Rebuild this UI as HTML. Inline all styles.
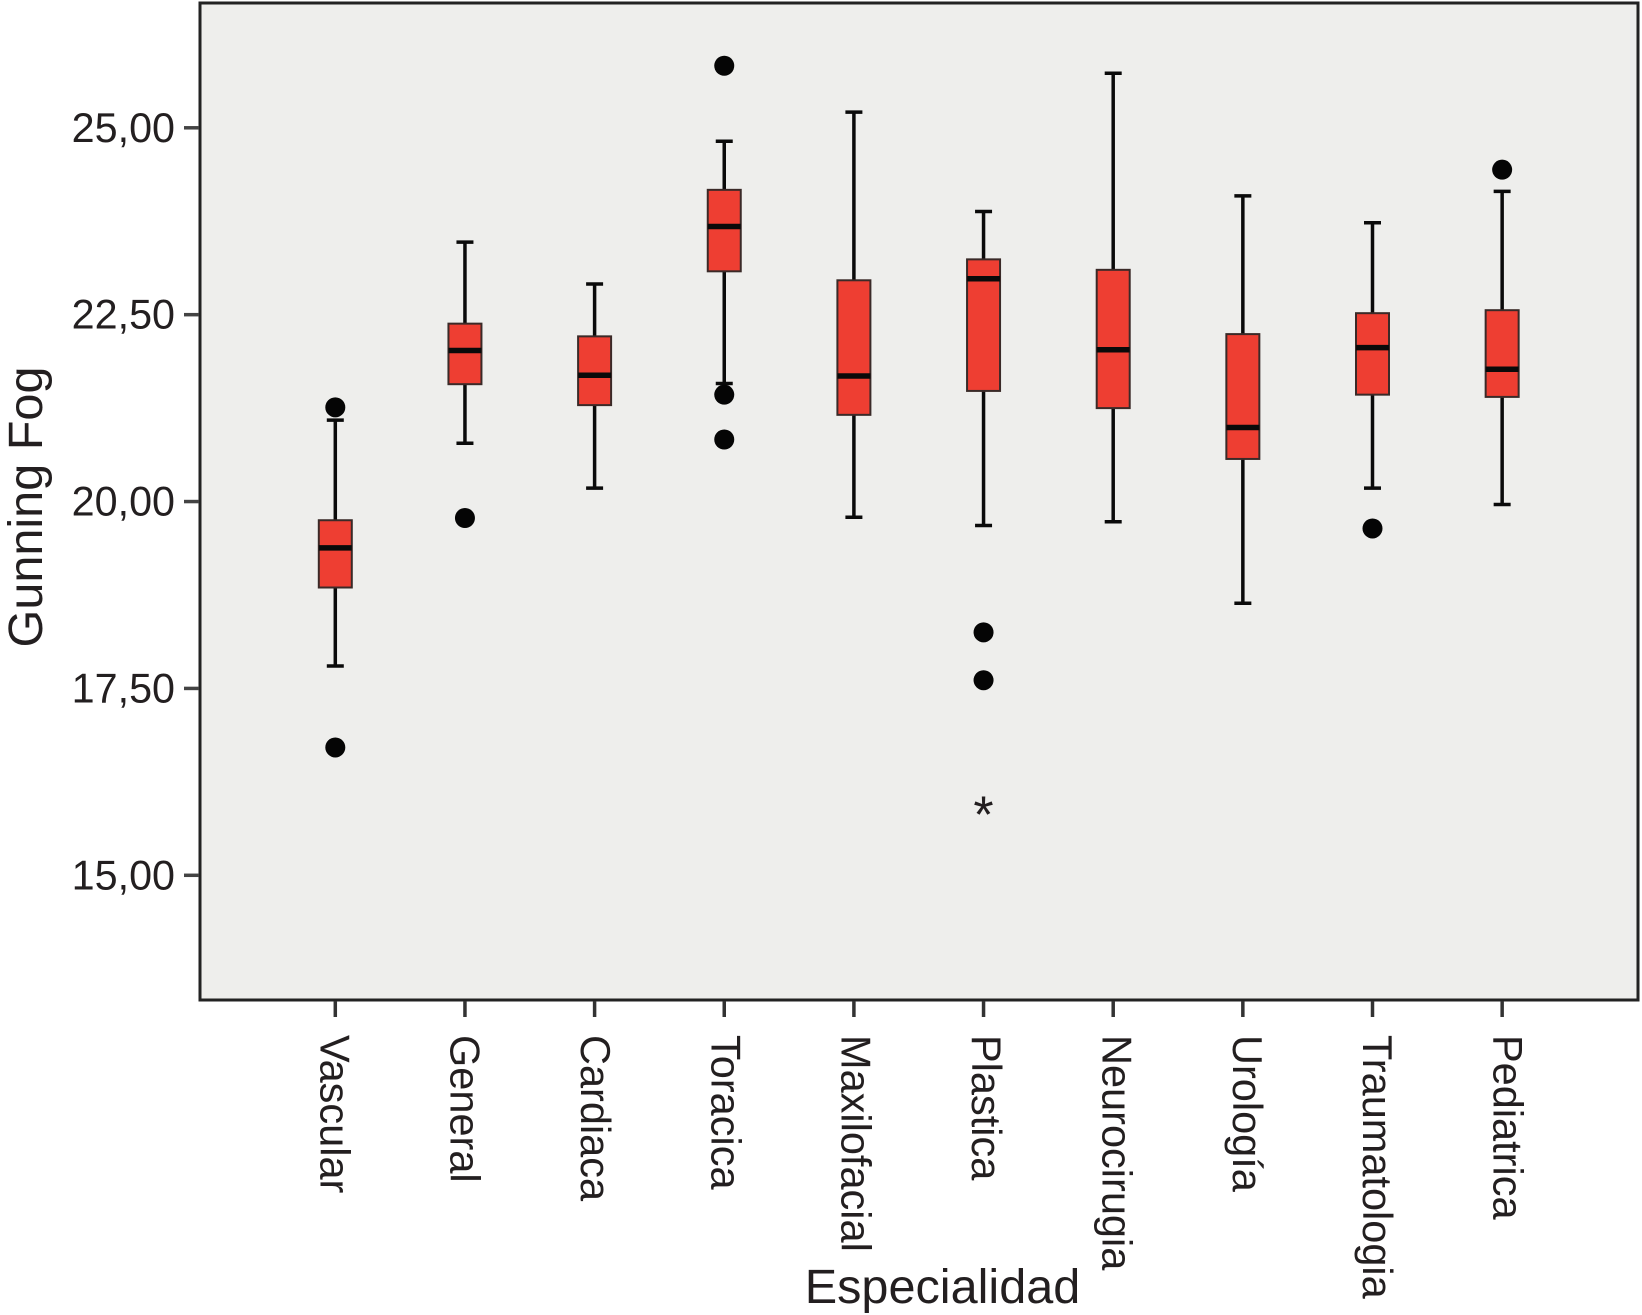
<!DOCTYPE html>
<html lang="es">
<head>
<meta charset="utf-8">
<title>Gunning Fog por Especialidad</title>
<style>
html,body{margin:0;padding:0;background:#fff;}
svg{display:block;font-family:"Liberation Sans",sans-serif;}
text{fill:#231f20;}
</style>
</head>
<body>
<svg id="chart" width="1642" height="1315" viewBox="0 0 1642 1315" xmlns="http://www.w3.org/2000/svg">
  <rect x="200" y="3" width="1438" height="997" fill="#eeeeec" stroke="#222" stroke-width="3"/>
  <g id="y-axis"></g>
  <g id="x-axis"></g>
  <g id="boxes"></g>
  <text transform="translate(42,507) rotate(-90)" text-anchor="middle" font-size="48.6">Gunning Fog</text>
  <text x="942.5" y="1303" text-anchor="middle" font-size="48.6">Especialidad</text>
</svg>
<script>
const categories = ["Vascular","General","Cardiaca","Toracica","Maxilofacial","Plastica","Neurocirugia","Urología","Traumatologia","Pediatrica"];
const whiskerHigh = [21.09,23.47,22.91,24.82,25.21,23.88,25.73,24.09,23.73,24.15];
const q3Values = [19.75,22.38,22.21,24.17,22.96,23.24,23.10,22.24,22.52,22.56];
const medians = [19.38,22.02,21.69,23.68,21.68,22.98,22.03,20.99,22.06,21.77];
const q1Values = [18.85,21.57,21.29,23.08,21.16,21.48,21.25,20.57,21.43,21.40];
const whiskerLow = [17.80,20.78,20.18,21.58,19.79,19.68,19.73,18.64,20.18,19.96];
const outliers = [[21.26,16.71],[19.78],[],[25.83,21.43,20.83],[],[18.25,17.61],[],[],[19.64],[24.44]];
const extremes = [[],[],[],[],[],[15.91],[],[],[],[]];
const yTicks = [15,17.5,20,22.5,25];
const yTickLabels = ["15,00","17,50","20,00","22,50","25,00"];

const NS = "http://www.w3.org/2000/svg";
function yScale(v){ return 127.8 + (25 - v) * 74.75; }
function xScale(i){ return 335.3 + i * 129.65; }
function labelX(i){ return 320.3 + i * 130.35; }
function make(tag, parent, props){
  const el = document.createElementNS(NS, tag);
  for (const k in props) el.setAttribute(k, props[k]);
  parent.appendChild(el);
  return el;
}

const yAxis = document.getElementById("y-axis");
yTicks.forEach(function(t, i){
  const y = yScale(t);
  const tick = make("line", yAxis, {x1:184, x2:199, y1:y, y2:y, stroke:"#444", "stroke-width":3.5});
  
  
  const label = make("text", yAxis, {x:175, y:y+14, "text-anchor":"end", "font-size":41.3});
  
  
  label.textContent = yTickLabels[i];
});

const xAxis = document.getElementById("x-axis");
categories.forEach(function(c, i){
  const x = xScale(i);
  const tick = make("line", xAxis, {x1:x, x2:x, y1:1001, y2:1017, stroke:"#333", "stroke-width":3.5});
  
  
  const label = make("text", xAxis, {transform:"translate("+labelX(i)+",1035) rotate(90)", "font-size":41.5});
  
  
  label.textContent = c;
});

const boxes = document.getElementById("boxes");
categories.forEach(function(c, i){
  const x = xScale(i);
  const g = make("g", boxes, {});
  
  
  const whisker = make("line", g, {x1:x, x2:x, y1:yScale(whiskerHigh[i]), y2:yScale(whiskerLow[i]), stroke:"#0a0a0a", "stroke-width":3.5});
  
  
  [whiskerHigh[i], whiskerLow[i]].forEach(function(v){
    const cap = make("line", g, {x1:x-8.5, x2:x+8.5, y1:yScale(v), y2:yScale(v), stroke:"#0a0a0a", "stroke-width":3.5});
    
    
  });
  const box = make("rect", g, {x:x-16.5, y:yScale(q3Values[i]), width:33, height:yScale(q1Values[i])-yScale(q3Values[i]), fill:"#ee3e32", stroke:"#3a2a28", "stroke-width":2});
  
  
  const med = make("line", g, {x1:x-16.5, x2:x+16.5, y1:yScale(medians[i]), y2:yScale(medians[i]), stroke:"#0a0a0a", "stroke-width":5.5});
  
  
  outliers[i].forEach(function(v){
    const dot = make("circle", g, {cx:x, cy:yScale(v), r:10, fill:"#050505"});
    
    
  });
  extremes[i].forEach(function(v){
    const star = make("text", g, {x:x, y:yScale(v)+25, "text-anchor":"middle", "font-size":52});
    
    
    star.textContent = "*";
  });
});
</script>
</body>
</html>
